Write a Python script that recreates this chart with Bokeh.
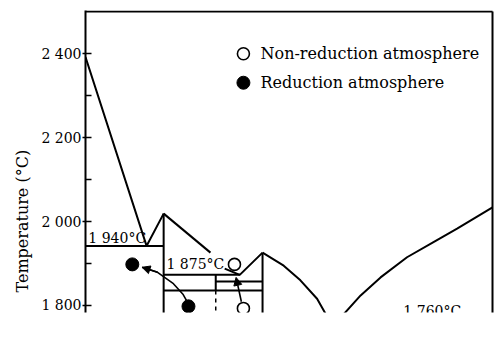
import math
from bokeh.plotting import figure
from bokeh.models import Range1d, FixedTicker, Title, Arrow, NormalHead
from bokeh.core.properties import value
from bokeh.embed import file_html
from bokeh.resources import INLINE

# ---- data (x: wt% Al2O3, y: temperature in deg C) ----
liq_a_x = [0.0, 15.0, 19.2]            # Y2O3 liquidus -> eutectic -> YAM
liq_a_t = [2392, 1942, 2019]
liq_b1_x = [19.2, 30.7]                # YAM liquidus (upper part)
liq_b1_t = [2019, 1926]
liq_b2_x = [34.2, 37.9, 43.5]          # lower part -> eutectic -> YAG
liq_b2_t = [1888, 1873, 1926]
liq_c_x = [43.5, 48.7, 52.8, 56.9, 59.0, 61.0]   # YAG liquidus (Al2O3 side)
liq_c_t = [1926, 1895, 1860, 1816, 1780, 1760]
liq_d_x = [61.0, 63.5, 67.6, 72.5, 79.0, 85.5, 91.3, 100.0]  # Al2O3 liquidus
liq_d_t = [1760, 1780, 1824, 1867, 1915, 1951, 1983, 2034]

eut1_x = [0.0, 19.2]; eut1_t = [1942, 1942]
eut2_x = [19.2, 37.9]; eut2_t = [1873, 1873]
iso3_x = [32.0, 43.5]; iso3_t = [1857, 1857]
iso4_x = [19.2, 43.5]; iso4_t = [1836, 1836]
yam_x = [19.2, 19.2]; yam_t = [2019, 1700]
yag_x = [43.5, 43.5]; yag_t = [1926, 1700]
yap_x = [32.0, 32.0]; yap_t = [1873, 1836]
yap_dash_x = [32.0, 32.0]; yap_dash_t = [1836, 1700]

red_x = [11.5, 25.3]; red_t = [1898, 1798]          # reduction atmosphere
nonred_x = [36.6, 38.8]; nonred_t = [1898, 1793]    # non-reduction atmosphere

arr_red_x = [24.8, 24.0, 21.6, 17.7, 13.9]
arr_red_t = [1812, 1826, 1852, 1879, 1891]
arr_non_x = [38.3, 37.0]
arr_non_t = [1809, 1867]

y_ticks = [1800, 2000, 2200, 2400]
y_minor = [1900, 2100, 2300]
y_tick_labels = {1800: "1 800", 2000: "2 000", 2200: "2 200", 2400: "2 400"}

iso_labels = ["1 940°C", "1 875°C", "1 760°C"]
iso_label_x = [0.7, 19.9, 78.1]
iso_label_t = [1960, 1898, 1788]

legend_labels = ["Non-reduction atmosphere", "Reduction atmosphere"]
legend_x = 38.8
legend_t = [2400, 2331]

FONT = "DejaVu Serif"

p = figure(width=494, height=358, output_backend="svg", toolbar_location=None,
           x_range=Range1d(0, 100.49), y_range=Range1d(1783.3, 2503.2),
           x_axis_location=None, min_border_left=85, min_border_right=0,
           min_border_top=10, min_border_bottom=46)
p.outline_line_color = None
p.grid.visible = False
p.background_fill_color = "white"
p.border_fill_color = "white"

ax = p.yaxis[0]
ax.ticker = FixedTicker(ticks=y_ticks, minor_ticks=y_minor)
ax.major_label_overrides = y_tick_labels
ax.major_label_text_font = FONT
ax.major_label_text_font_size = "14px"
ax.major_label_text_color = "black"
ax.major_label_standoff = 1
ax.axis_line_width = 2
ax.axis_line_color = "black"
ax.major_tick_in = 6
ax.major_tick_out = 3
ax.minor_tick_in = 6
ax.minor_tick_out = 0
ax.major_tick_line_width = 1.5
ax.minor_tick_line_width = 1.5

LW = 2
# frame top and right
p.line([0, 100], [2501, 2501], line_color="black", line_width=2)
p.line([100, 100], [2501, 1700], line_color="black", line_width=2)

for xs, ts in [(liq_a_x, liq_a_t), (liq_b1_x, liq_b1_t), (liq_b2_x, liq_b2_t),
               (liq_c_x, liq_c_t), (liq_d_x, liq_d_t), (eut1_x, eut1_t),
               (eut2_x, eut2_t), (iso3_x, iso3_t), (iso4_x, iso4_t),
               (yam_x, yam_t), (yag_x, yag_t), (yap_x, yap_t)]:
    p.line(xs, ts, line_color="black", line_width=LW)
p.line(yap_dash_x, yap_dash_t, line_color="black", line_width=1.5, line_dash="4 4")

# arrows
p.line(arr_red_x, arr_red_t, line_color="black", line_width=1.6)
p.add_layout(Arrow(end=NormalHead(size=8, fill_color="black", line_color="black"),
                   x_start=arr_red_x[-2], y_start=arr_red_t[-2],
                   x_end=arr_red_x[-1], y_end=arr_red_t[-1],
                   line_color="black", line_width=1.6))
p.add_layout(Arrow(end=NormalHead(size=8, fill_color="black", line_color="black"),
                   x_start=arr_non_x[0], y_start=arr_non_t[0],
                   x_end=arr_non_x[1], y_end=arr_non_t[1],
                   line_color="black", line_width=1.6))

# data points
p.scatter(red_x, red_t, size=13, marker="circle", fill_color="black", line_color="black")
p.scatter(nonred_x, nonred_t, size=12, marker="circle", fill_color="white",
          line_color="black", line_width=1.6)

# isotherm labels
p.text(iso_label_x, iso_label_t, text=iso_labels, text_font=value(FONT),
       text_font_size="14px", text_color="black", text_baseline="middle",
       text_align="left")

# legend
p.scatter([legend_x], [legend_t[0]], size=12, marker="circle", fill_color="white",
          line_color="black", line_width=1.6)
p.scatter([legend_x], [legend_t[1]], size=13, marker="circle", fill_color="black",
          line_color="black")
p.text([43.0, 43.0], legend_t, text=legend_labels, text_font=value(FONT),
       text_font_size="16px", text_color="black", text_baseline="middle",
       text_align="left")

# axis title (placed lower than the frame centre, as in the original)
p.add_layout(Title(text="Temperature (°C)", align="left", offset=20,
                   text_font=FONT, text_font_size="16px", text_font_style="normal",
                   text_color="black", standoff=13), "left")

open("out.html", "w").write(file_html(p, INLINE))
